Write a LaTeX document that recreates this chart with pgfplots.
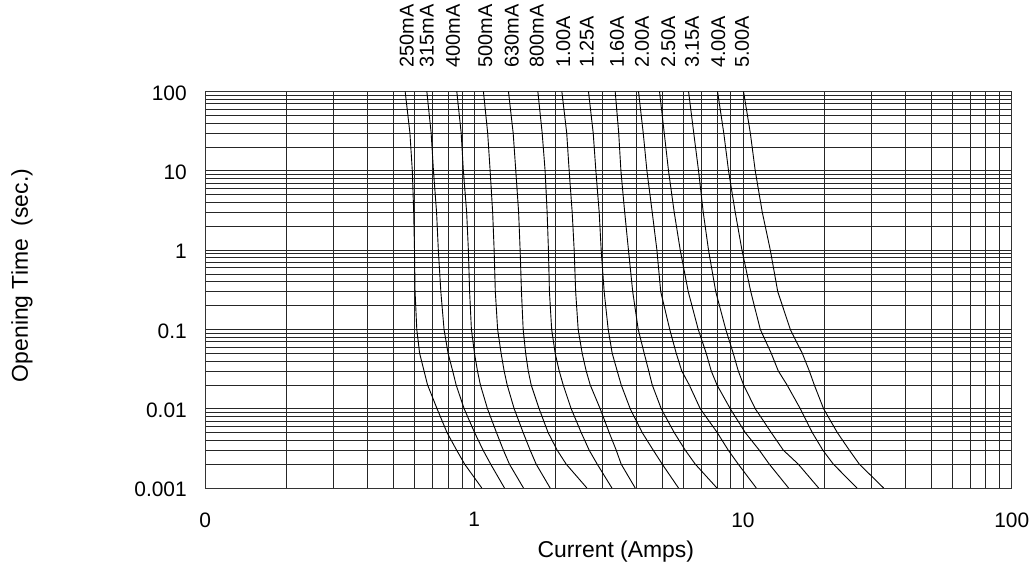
\documentclass[border=0pt]{standalone}
\usepackage{fontspec}
\setmainfont{Liberation Sans}
\usepackage{pgfplots}
\usepackage{pgfplotstable}
\pgfplotsset{compat=1.18}

% opening time (s) vs current (A), one column per fuse rating
\pgfplotstableread{
t     a     b     c     d     e     f     g     h     i     j     k     l     m     n
100   0.554 0.667 0.862 1.083 1.342 1.726 2.120 2.663 3.348 4.088 4.893 6.275 8.044 10.05
30    0.577 0.692 0.895 1.123 1.397 1.791 2.210 2.773 3.450 4.256 5.095 6.560 8.484 10.65
10    0.589 0.706 0.912 1.147 1.429 1.837 2.257 2.837 3.516 4.393 5.286 6.836 8.839 11.11
3     0.596 0.725 0.938 1.172 1.464 1.869 2.316 2.919 3.632 4.597 5.550 7.117 9.360 11.80
1     0.600 0.736 0.952 1.187 1.483 1.890 2.356 2.969 3.751 4.785 5.844 7.447 9.915 12.64
0.3   0.603 0.752 0.962 1.199 1.500 1.906 2.386 3.046 3.890 4.944 6.258 7.921 10.69 13.47
0.1   0.612 0.773 0.977 1.223 1.522 1.943 2.438 3.153 4.077 5.341 6.817 8.630 11.60 15.00
0.05  0.627 0.800 1.003 1.260 1.555 2.002 2.523 3.263 4.292 5.647 7.301 9.201 12.74 16.62
0.03  0.651 0.832 1.029 1.293 1.590 2.072 2.611 3.405 4.461 5.918 7.621 9.605 13.53 17.65
0.02  0.671 0.857 1.055 1.327 1.630 2.144 2.702 3.524 4.597 6.311 8.002 10.05 14.58 18.42
0.01  0.728 0.918 1.121 1.409 1.745 2.296 2.943 3.807 4.965 6.936 8.969 11.11 16.34 19.95
0.005 0.793 1.004 1.211 1.522 1.885 2.502 3.180 4.219 5.550 8.024 10.20 12.74 18.11 22.44
0.003 0.861 1.080 1.285 1.616 2.037 2.679 3.377 4.637 6.100 8.816 11.50 14.13 19.82 24.87
0.002 0.922 1.152 1.353 1.701 2.200 2.870 3.524 5.008 6.645 9.605 12.53 16.06 21.68 27.09
0.001 1.068 1.297 1.526 1.918 2.627 3.255 3.974 5.758 8.002 11.21 14.78 19.12 26.56 33.37
}\fusedata

\tikzset{rating/.style={yshift=23.5bp, rotate=90, anchor=west, inner sep=0pt,
    font=\fontsize{20}{20}\selectfont}}

\begin{document}
\begin{tikzpicture}
\begin{axis}[
  xmode=log, ymode=log,
  scale only axis,
  width=806.5bp, height=396.5bp,
  xmin=0.1, xmax=100, ymin=0.001, ymax=100,
  clip=false,
  xtick={0.1,1,10,100}, xticklabels={0,1,10,100},
  ytick={0.001,0.01,0.1,1,10,100},
  yticklabels={0.001,0.01,0.1,1,10,100},
  minor xtick={0.2,0.3,0.4,0.5,0.6,0.7,0.8,0.9,2,3,4,5,6,7,8,9,20,30,40,50,60,70,80,90},
  minor ytick={0.002,0.003,0.004,0.005,0.006,0.007,0.008,0.009,
    0.02,0.03,0.04,0.05,0.06,0.07,0.08,0.09,0.2,0.3,0.4,0.5,0.6,0.7,0.8,0.9,
    2,3,4,5,6,7,8,9,20,30,40,50,60,70,80,90},
  major tick length=0pt, minor tick length=0pt,
  grid=both,
  major grid style={black!85, line width=0.6bp},
  minor grid style={black!85, line width=0.6bp},
  axis line style={black!80, line width=0.9bp},
  /pgf/number format/assume math mode=true,
  tick label style={font=\fontsize{21}{21}\selectfont},
  xticklabel style={yshift=-21bp},
  yticklabel style={xshift=-15bp, yshift=-1.5bp},
  xlabel={Current (Amps)},
  ylabel={Opening Time\ \ (sec.)},
  label style={font=\fontsize{23}{23}\selectfont},
  xlabel style={at={(axis description cs:0.509,-0.161)}, anchor=center},
  ylabel style={at={(axis description cs:-0.2273,0.536)}, anchor=center},
]
\pgfplotsinvokeforeach{a,b,c,d,e,f,g,h,i,j,k,l,m,n}{
  \addplot[black, line width=0.9bp, mark=none] table[x=#1, y=t] {\fusedata};
}
\node[rating] at (axis cs:0.562,100) {250mA};
\node[rating] at (axis cs:0.667,100) {315mA};
\node[rating] at (axis cs:0.835,100) {400mA};
\node[rating] at (axis cs:1.099,100) {500mA};
\node[rating] at (axis cs:1.381,100) {630mA};
\node[rating] at (axis cs:1.711,100) {800mA};
\node[rating] at (axis cs:2.144,100) {1.00A};
\node[rating] at (axis cs:2.627,100) {1.25A};
\node[rating] at (axis cs:3.397,100) {1.60A};
\node[rating] at (axis cs:4.208,100) {2.00A};
\node[rating] at (axis cs:5.272,100) {2.50A};
\node[rating] at (axis cs:6.460,100) {3.15A};
\node[rating] at (axis cs:8.093,100) {4.00A};
\node[rating] at (axis cs:9.915,100) {5.00A};
\end{axis}
\pgfresetboundingbox
\path[use as bounding box] (current axis.south west) ++(-205.3bp,-81bp) rectangle ++(1029bp,569bp);
\end{tikzpicture}
\end{document}
